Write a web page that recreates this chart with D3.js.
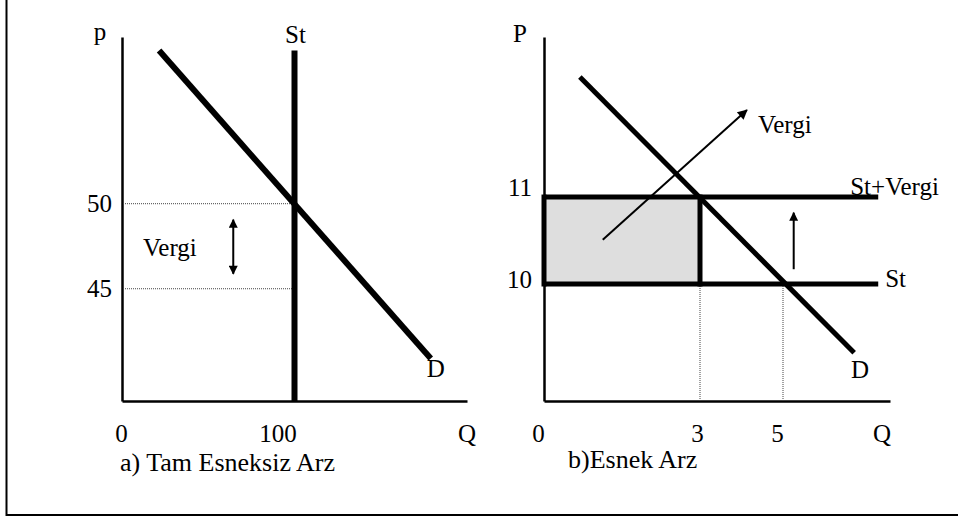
<!DOCTYPE html>
<html>
<head>
<meta charset="utf-8">
<script src="https://cdn.jsdelivr.net/npm/d3@7"></script>
<style>
  html, body { margin: 0; padding: 0; background: #fff; }
  svg { display: block; }
</style>
</head>
<body>
<div id="chart"></div>
<script>
// ---- a) Tam Esneksiz Arz ----
const ticksQA = [0, 100];
const ticksPA = [45, 50];
const supplyQA = 100;              // St is vertical at Q = 100
const supplyTopPA = 59;
const demandA = [[21.5, 59], [179, 40.9]];
const taxLevelsA = [50, 45];       // price with / without tax
const taxArrowA = {q: 64.5, from: 49.06, to: 45.88};
const taxLabelA = {q: 12.2, p: 46.94};

// ---- b) Esnek Arz ----
const ticksQB = [0, 3, 5];
const ticksPB = [10, 11];
const supplyPB = 10;
const supplyTaxPB = 11;
const supplyEndQB = 6.78;
const demandB = [[0.69, 12.38], [6.33, 9.21]];
const dropQB = [3, 5];             // equilibrium quantities
const taxAreaB = {q0: 0, q1: 3, p0: 10, p1: 11};
const vergiArrowB = [[1.13, 10.51], [4.13, 12.0]];
const shiftArrowB = {q: 5.2, from: 10.17, to: 10.82};

const W = 958, H = 519;
const FONT = 'Liberation Serif, Times New Roman, Times, serif';
const FS = 25;

const svg = d3.select('#chart').append('svg')
  .attr('width', W)
  .attr('height', H)
  .attr('font-family', FONT);

const defs = svg.append('defs');

/**
 * simple filled arrow head
 */
function addMarker(id, len, wid) {
  defs.append('marker')
    .attr('id', id)
    .attr('viewBox', '0 0 10 10')
    .attr('refX', 9)
    .attr('refY', 5)
    .attr('markerUnits', 'userSpaceOnUse')
    .attr('markerWidth', len)
    .attr('markerHeight', wid)
    .attr('orient', 'auto-start-reverse')
    .append('path')
    .attr('d', 'M0,0L10,5L0,10Z')
    .attr('fill', '#000');
}
addMarker('head', 10, 9);
addMarker('headBig', 13, 10);

// outer frame (left + bottom only)
svg.append('path')
  .attr('d', 'M6.5,0V515H' + W)
  .attr('fill', 'none')
  .attr('stroke', '#000')
  .attr('stroke-width', 2);

const line = (x, y) => d3.line().x(d => x(d[0])).y(d => y(d[1]));

/**
 * axes with labels only at the given values, no tick marks
 */
function drawAxes(g, x, y, tq, tp, opt) {
  const xa = g.append('g')
    .attr('transform', 'translate(0,' + y.range()[0] + ')')
    .call(d3.axisBottom(x).tickValues(tq).tickFormat(d3.format('d'))
      .tickSize(0).tickSizeOuter(0).tickPadding(23));
  xa.selectAll('text')
    .attr('dx', d => opt.qShift[d] || 0);

  const ya = g.append('g')
    .attr('transform', 'translate(' + x.range()[0] + ',0)')
    .call(d3.axisLeft(y).tickValues(tp).tickFormat(d3.format('d'))
      .tickSize(0).tickSizeOuter(0).tickPadding(opt.pPad));
  ya.selectAll('text')
    .attr('dy', d => opt.pDy[d]);

  [xa, ya].forEach(a => {
    a.attr('font-family', FONT).attr('font-size', FS);
    a.select('.domain').attr('stroke', '#000').attr('stroke-width', 2.5);
    a.selectAll('text').attr('fill', '#000');
  });

  // axis names
  const xr = x.range(), yr = y.range();
  g.append('text')
    .attr('x', xr[xr.length - 1] + opt.qNameDx)
    .attr('y', yr[0] + 41)
    .attr('text-anchor', 'middle')
    .attr('font-size', FS)
    .text('Q');
  g.append('text')
    .attr('x', xr[0] + opt.pNameDx)
    .attr('y', yr[1] + opt.pNameDy)
    .attr('text-anchor', 'middle')
    .attr('font-size', FS)
    .text(opt.pName);
  g.append('text')
    .attr('x', xr[0] + opt.captionDx)
    .attr('y', yr[0] + opt.captionDy)
    .attr('font-size', 26)
    .text(opt.caption);
}

function label(g, text, px, py, dx, dy, anchor) {
  g.append('text')
    .attr('x', px + dx)
    .attr('y', py + dy)
    .attr('text-anchor', anchor || 'start')
    .attr('font-size', FS)
    .attr('fill', '#000')
    .text(text);
}

// ================= panel a =================
const xA = d3.scaleLinear().domain([0, 200]).range([122, 467]);
const yA = d3.scaleLinear().domain([38.4, 59.8]).range([401, 37]);
const gA = svg.append('g');

drawAxes(gA, xA, yA, ticksQA, ticksPA, {
  qShift: {0: -1, 100: -17},
  pPad: 10,
  pDy: {45: '0.32em', 50: '0.32em'},
  qNameDx: 0,
  pNameDx: -22, pNameDy: 3, pName: 'p',
  captionDx: -2, captionDy: 70,
  caption: 'a) Tam Esneksiz Arz'
});

// dotted price levels
gA.selectAll('.lvl')
  .data(taxLevelsA)
  .enter()
  .append('line')
  .attr('x1', xA(0) + 1)
  .attr('x2', xA(supplyQA))
  .attr('y1', d => yA(d))
  .attr('y2', d => yA(d))
  .attr('stroke', '#444')
  .attr('stroke-width', 1)
  .attr('stroke-dasharray', '1,1');

// St
gA.append('line')
  .attr('x1', xA(supplyQA)).attr('x2', xA(supplyQA))
  .attr('y1', yA(supplyTopPA)).attr('y2', yA.range()[0])
  .attr('stroke', '#000')
  .attr('stroke-width', 6);

// D
gA.append('path')
  .attr('d', line(xA, yA)(demandA))
  .attr('fill', 'none')
  .attr('stroke', '#000')
  .attr('stroke-width', 6);

// tax arrow
gA.append('line')
  .attr('x1', xA(taxArrowA.q)).attr('x2', xA(taxArrowA.q))
  .attr('y1', yA(taxArrowA.from)).attr('y2', yA(taxArrowA.to))
  .attr('stroke', '#000')
  .attr('stroke-width', 2)
  .attr('marker-start', 'url(#head)')
  .attr('marker-end', 'url(#head)');

label(gA, 'St', xA(supplyQA), yA(supplyTopPA), 1, -8, 'middle');
label(gA, 'D', xA(demandA[1][0]), yA(demandA[1][1]), 5, 19, 'middle');
label(gA, 'Vergi', xA(taxLabelA.q), yA(taxLabelA.p), 0, 0);

// ================= panel b =================
const xB = d3.scaleLinear().domain([0, 3, 5, 7]).range([544, 700, 783, 890]);
const yB = d3.scaleLinear().domain([8.655, 12.84]).range([401, 37]);
const gB = svg.append('g');

// tax revenue area
gB.append('rect')
  .attr('x', xB(taxAreaB.q0))
  .attr('y', yB(taxAreaB.p1))
  .attr('width', xB(taxAreaB.q1) - xB(taxAreaB.q0))
  .attr('height', yB(taxAreaB.p0) - yB(taxAreaB.p1))
  .attr('fill', '#dedede');

drawAxes(gB, xB, yB, ticksQB, ticksPB, {
  qShift: {0: -6, 3: -3, 5: -6},
  pPad: 12,
  pDy: {10: '0.12em', 11: '-0.08em'},
  qNameDx: -8,
  pNameDx: -24, pNameDy: 5, pName: 'P',
  captionDx: 24, captionDy: 67,
  caption: 'b)Esnek Arz'
});

// dotted drop lines
gB.selectAll('.drop')
  .data(dropQB)
  .enter()
  .append('line')
  .attr('x1', d => xB(d)).attr('x2', d => xB(d))
  .attr('y1', yB(supplyPB))
  .attr('y2', yB.range()[0])
  .attr('stroke', '#444')
  .attr('stroke-width', 1)
  .attr('stroke-dasharray', '1,1');

// St and St+Vergi
gB.selectAll('.sup')
  .data([supplyPB, supplyTaxPB])
  .enter()
  .append('line')
  .attr('x1', xB(0)).attr('x2', xB(supplyEndQB))
  .attr('y1', d => yB(d)).attr('y2', d => yB(d))
  .attr('stroke', '#000')
  .attr('stroke-width', 5);

// area sides
gB.selectAll('.side')
  .data([taxAreaB.q0, taxAreaB.q1])
  .enter()
  .append('line')
  .attr('x1', d => xB(d)).attr('x2', d => xB(d))
  .attr('y1', yB(taxAreaB.p0)).attr('y2', yB(taxAreaB.p1))
  .attr('stroke', '#000')
  .attr('stroke-width', 5)
  .attr('stroke-linecap', 'square');

// D
gB.append('path')
  .attr('d', line(xB, yB)(demandB))
  .attr('fill', 'none')
  .attr('stroke', '#000')
  .attr('stroke-width', 5);

// Vergi pointer
gB.append('path')
  .attr('d', line(xB, yB)(vergiArrowB))
  .attr('fill', 'none')
  .attr('stroke', '#000')
  .attr('stroke-width', 2)
  .attr('marker-end', 'url(#headBig)');

// supply shift arrow
gB.append('line')
  .attr('x1', xB(shiftArrowB.q)).attr('x2', xB(shiftArrowB.q))
  .attr('y1', yB(shiftArrowB.from)).attr('y2', yB(shiftArrowB.to))
  .attr('stroke', '#000')
  .attr('stroke-width', 2)
  .attr('marker-end', 'url(#head)');

label(gB, 'St', xB(supplyEndQB), yB(supplyPB), 7, 3);
label(gB, 'St+Vergi', xB(supplyEndQB), yB(supplyTaxPB), -28, -2);
label(gB, 'D', xB(demandB[1][0]), yB(demandB[1][1]), 6, 25, 'middle');
label(gB, 'Vergi', xB(vergiArrowB[1][0]), yB(vergiArrowB[1][1]), 11, 23);
</script>
</body>
</html>
